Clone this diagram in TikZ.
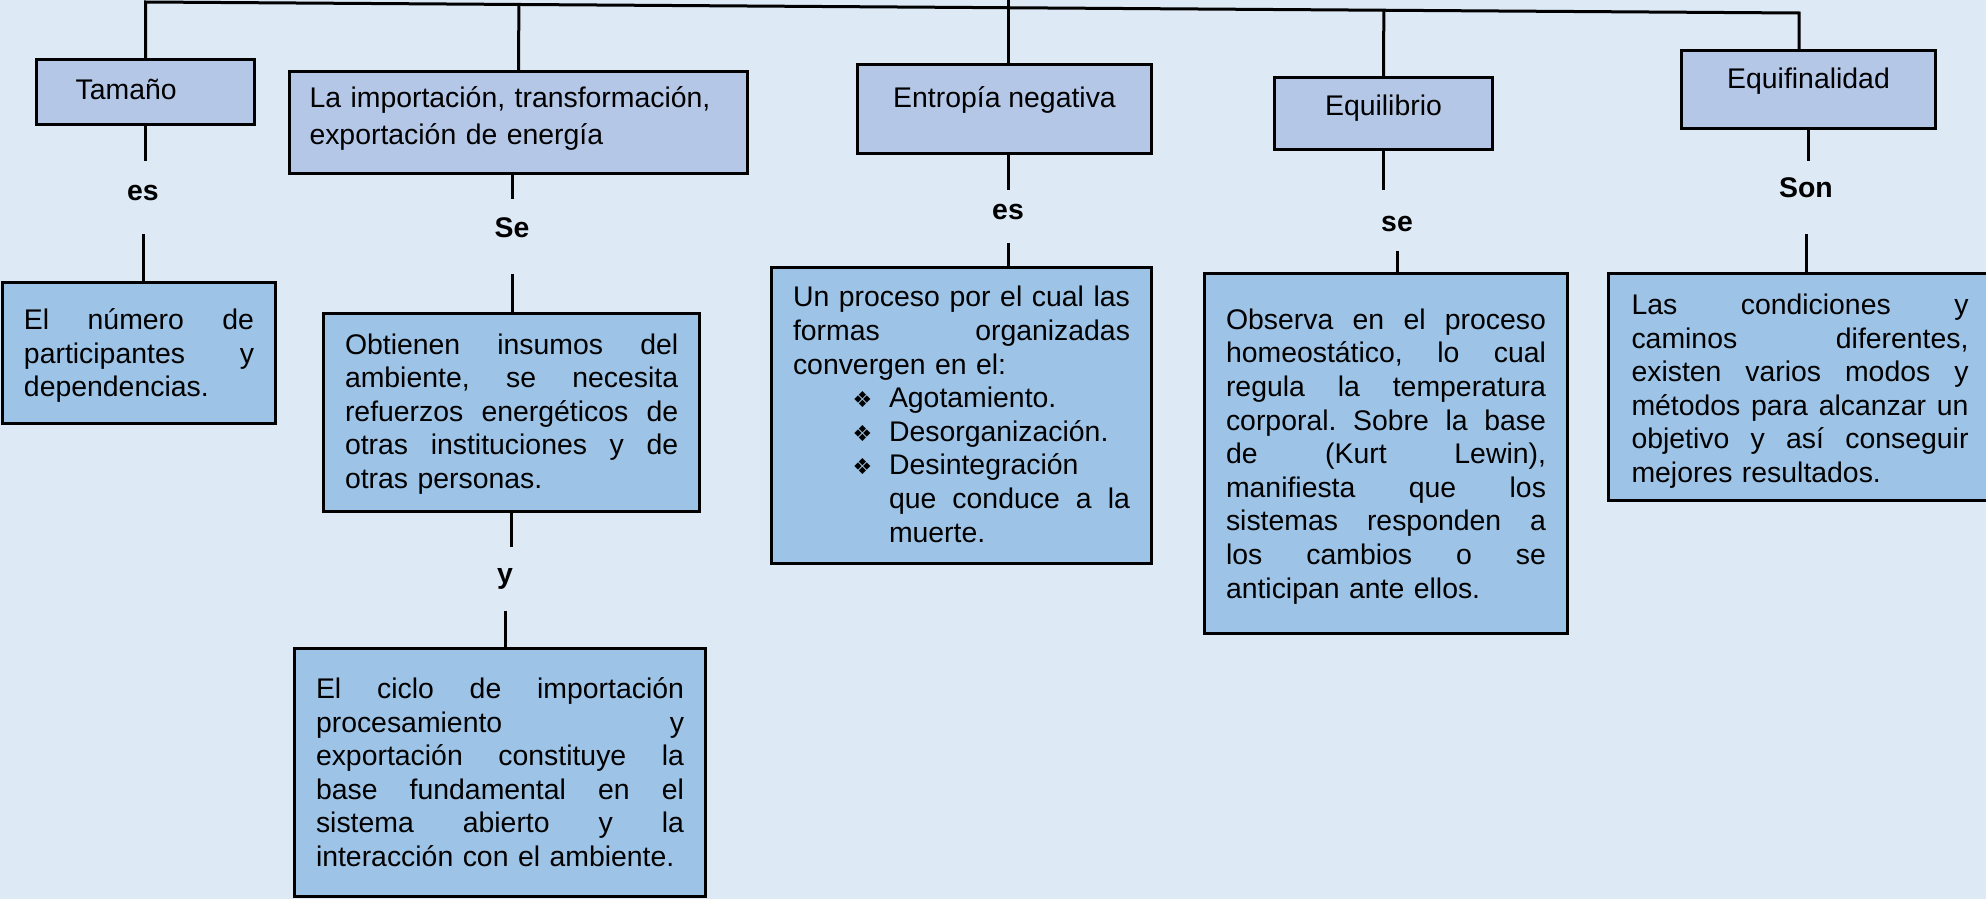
\documentclass[tikz,border=0pt]{standalone}
\usepackage{fontspec}
\setmainfont{Liberation Sans}
\newfontfamily\symf{DejaVu Sans}
\usetikzlibrary{calc}
\definecolor{bgblue}{HTML}{DDE9F5}
\definecolor{headfill}{HTML}{B4C7E7}
\definecolor{boxfill}{HTML}{9DC3E6}
\frenchspacing
\newcommand{\txt}{\fontsize{14.2}{16.8}\selectfont\hyphenpenalty=10000 }
\newcommand{\jl}[1]{\makebox[\hsize][s]{\spaceskip=.278em plus 1fil\relax #1}}
\newcommand{\bul}[1]{\hspace*{29.8pt}\makebox[18.2pt][l]{\symf\fontsize{11}{11}\selectfont ❖}#1}
\tikzset{
  head/.style={draw, fill=headfill, line width=1.5pt, anchor=north west, inner sep=0pt, align=center, font=\txt},
  body/.style={draw, fill=boxfill, line width=1.5pt, anchor=north west, inner ysep=0pt, inner xsep=10.75pt, align=left, font=\txt},
  link/.style={font=\txt\bfseries, inner sep=0pt, anchor=base},
  conn/.style={line width=1.5pt},
}
\begin{document}
\begin{tikzpicture}[x=0.5pt, y=-0.5pt]
    \fill[bgblue] (0,0) rectangle (1986,899);
    \useasboundingbox (0,0) rectangle (1986,899);
    \node[head, align=left, text width=69.8pt, inner xsep=19.6pt, text height=20pt, text depth=12.5pt] (tam) at (35,58) {Tamaño};
    \node[head, align=left, text width=209pt, inner xsep=10pt, text height=18.25pt, text depth=32.75pt, font=\fontsize{14.2}{18.3}\selectfont] (imp) at (288,70) {La importación, transformación,\\exportación de energía};
    \node[head, minimum width=147pt, text height=21.75pt, text depth=22.75pt] (ent) at (856,63) {Entropía negativa};
    \node[head, minimum width=109pt, text height=19pt, text depth=17pt] (equi) at (1273,76) {Equilibrio};
    \node[head, minimum width=127pt, text height=19.25pt, text depth=19.75pt] (eqf) at (1680,49) {Equifinalidad};
    \node[body, text width=115pt, text height=23.5pt, text depth=47pt] (num) at (1,281) {\jl{El número de}\\\jl{participantes y}\\dependencias.};
    \node[body, text width=166.6pt, text height=20.25pt, text depth=78.5pt] (obt) at (322,312) {\jl{Obtienen insumos del}\\\jl{ambiente, se necesita}\\\jl{refuerzos energéticos de}\\\jl{otras instituciones y de}\\otras personas.};
    \node[body, text width=184pt, text height=25pt, text depth=99.2pt] (cic) at (293,647) {\jl{El ciclo de importación}\\\jl{procesamiento y}\\\jl{exportación constituye la}\\\jl{base fundamental en el}\\\jl{sistema abierto y la}\\interacción con el ambiente.};
    \node[body, text width=168.5pt, text height=19.7pt, text depth=128.3pt] (proc) at (770,266) {\jl{Un proceso por el cual las}\\\jl{formas organizadas}\\convergen en el:\\\bul{Agotamiento.}\\\bul{Desorganización.}\\\bul{Desintegración}\\\hspace*{48pt}\makebox[\dimexpr\hsize-48pt\relax][s]{\spaceskip=.278em plus 1fil\relax que conduce a la}\\\hspace*{48pt}muerte.};
    \node[body, text width=160pt, text height=27.9pt, text depth=152pt] (obs) at (1203,272) {\jl{Observa en el proceso}\\\jl{homeostático, lo cual}\\\jl{regula la temperatura}\\\jl{corporal. Sobre la base}\\\jl{de (Kurt Lewin),}\\\jl{manifiesta que los}\\\jl{sistemas responden a}\\\jl{los cambios o se}\\anticipan ante ellos.};
    \node[body, text width=168.5pt, inner xsep=11.5pt, text height=20.5pt, text depth=93pt] (lasc) at (1607,272) {\jl{Las condiciones y}\\\jl{caminos diferentes,}\\\jl{existen varios modos y}\\\jl{métodos para alcanzar un}\\\jl{objetivo y así conseguir}\\mejores resultados.};
    \node[link, text height=19.5pt, text depth=17pt] (es1) at (143,200) {es};
    \node[link, text height=19pt, text depth=18.3pt] (se2) at (512,237) {Se};
    \node[link, text height=18pt, text depth=13.75pt] (yy) at (505,583) {y};
    \node[link, text height=15pt, text depth=11.5pt] (es2) at (1008,220) {es};
    \node[link, text height=20.75pt, text depth=9.65pt] (se3) at (1397,231.5) {se};
    \node[link, text height=18.5pt, text depth=18pt] (son) at (1806,198) {Son};
    \coordinate (tl) at (147,2);
    \coordinate (tr) at (1799,13);
    \coordinate (root) at (1008,-4);
    \draw[conn] (tam.north) -- (tam.north |- tl) -- (tr) -- (tr |- eqf.north);
    \draw[conn] (imp.north) -- ($(tl)!(imp.north)!(tr)$);
    \draw[conn] (root) -- (ent.north -| root);
    \draw[conn] (equi.north) -- ($(tl)!(equi.north)!(tr)$);
    \draw[conn] (tam.south) -- (tam.south |- es1.north);
    \draw[conn] (es1.south) -- (es1 |- num.north);
    \draw[conn] (imp.south -| se2) -- (se2.north);
    \draw[conn] (se2.south) -- (se2 |- obt.north);
    \draw[conn] (obt.south) -- (obt.south |- yy.north);
    \draw[conn] (yy.south) -- (yy |- cic.north);
    \draw[conn] (ent.south -| es2) -- (es2.north);
    \draw[conn] (es2.south) -- (es2 |- proc.north);
    \draw[conn] (equi.south) -- (equi.south |- se3.north);
    \draw[conn] (se3.south) -- (se3 |- obs.north);
    \draw[conn] (eqf.south) -- (eqf.south |- son.north);
    \draw[conn] (son.south) -- (son |- lasc.north);
\end{tikzpicture}
\end{document}
